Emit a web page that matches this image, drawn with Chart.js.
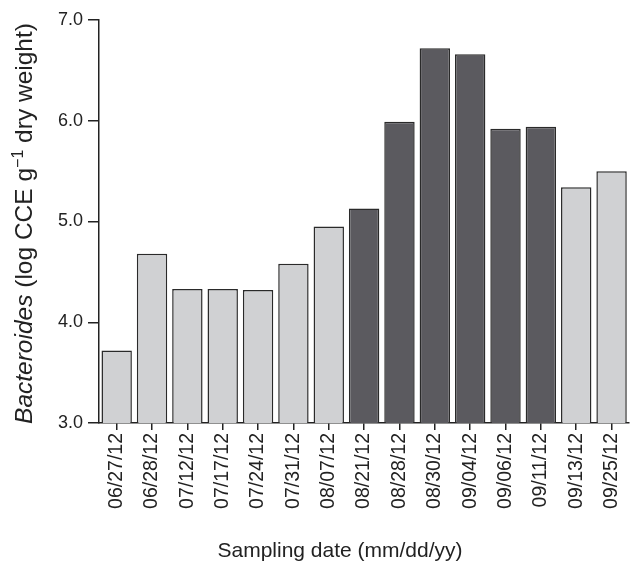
<!DOCTYPE html>
<html>
<head>
<meta charset="utf-8">
<script src="https://cdn.jsdelivr.net/npm/chart.js@4/dist/chart.umd.min.js"></script>
<style>
  html, body { margin: 0; padding: 0; background: #fff; overflow: hidden; }
  #wrap { width: 638px; height: 566px; }
</style>
</head>
<body>
<div id="wrap"><canvas id="bact"></canvas></div>
<script>
// sampling dates and Bacteroides level (log CCE per g dry weight)
const dates = ['06/27/12', '06/28/12', '07/12/12', '07/17/12', '07/24/12', '07/31/12', '08/07/12',
  '08/21/12', '08/28/12', '08/30/12', '09/04/12', '09/06/12', '09/11/12', '09/13/12', '09/25/12'];
const logCCE = [3.72, 4.68, 4.33, 4.33, 4.32, 4.58, 4.95, 5.13, 5.99, 6.72, 6.66, 5.92, 5.94, 5.34, 5.50];
// dark bars = late summer samples
const darkBar = [0, 0, 0, 0, 0, 0, 0, 1, 1, 1, 1, 1, 1, 0, 0];
const yTicks = [3.0, 4.0, 5.0, 6.0, 7.0];

const LIGHT = '#d0d1d3';
const DARK = '#5b5a5f';
const INK = '#222222';
const FONT = '"Liberation Sans", Arial, sans-serif';

// axis titles drawn by hand: italic genus name, superscript -1,
// and the x title sits left of the (clipped) plot centre
const axisTitles = {
  id: 'axisTitles',
  afterDraw(chart) {
    const ctx = chart.ctx;
    const area = chart.chartArea;
    const parts = [
      { t: 'Bacteroides', f: 'italic 24.5px ' + FONT, dy: 0 },
      { t: ' (log CCE g', f: '24.5px ' + FONT, dy: 0 },
      { t: '\u22121', f: '16px ' + FONT, dy: -9 },
      { t: ' dry weight)', f: '24.5px ' + FONT, dy: 0 }
    ];
    let total = 0;
    parts.forEach(p => { ctx.font = p.f; p.w = ctx.measureText(p.t).width; total += p.w; });
    ctx.save();
    ctx.fillStyle = INK;
    ctx.textBaseline = 'alphabetic';
    ctx.translate(32, (area.top + area.bottom) / 2 + 2);
    ctx.rotate(-Math.PI / 2);
    let x = -total / 2;
    parts.forEach(p => {
      ctx.font = p.f;
      ctx.fillText(p.t, x, p.dy);
      x += p.w;
    });
    ctx.restore();

    ctx.save();
    ctx.fillStyle = INK;
    ctx.font = '21px ' + FONT;
    ctx.textAlign = 'center';
    ctx.textBaseline = 'middle';
    ctx.fillText('Sampling date (mm/dd/yy)', 340, 551);
    ctx.restore();
  }
};

new Chart(document.getElementById('bact'), {
  type: 'bar',
  data: {
    labels: dates,
    datasets: [{
      data: logCCE,
      backgroundColor: darkBar.map(d => d ? DARK : LIGHT),
      borderColor: '#2a2a2a',
      borderWidth: 1.5,
      barPercentage: 0.86,
      categoryPercentage: 1.0
    }]
  },
  options: {
    responsive: true,
    maintainAspectRatio: false,
    animation: false,
    layout: { padding: { left: 31, top: 20, right: 1, bottom: 6 } },
    plugins: {
      legend: { display: false },
      tooltip: { enabled: false }
    },
    scales: {
      x: {
        offset: true,
        afterFit: s => { s.height = 137; },
        grid: { offset: false, drawOnChartArea: false, drawTicks: true, tickLength: 7, color: INK, lineWidth: 1.5 },
        border: { color: INK, width: 1.5 },
        ticks: { minRotation: 90, maxRotation: 90, color: INK, font: { family: FONT, size: 19.5 }, padding: 3 }
      },
      y: {
        min: 3, max: 7,
        afterFit: s => { s.width = 68; },
        afterBuildTicks: s => { s.ticks = yTicks.map(v => ({ value: v })); },
        grid: { drawOnChartArea: false, drawTicks: true, tickLength: 11, color: INK, lineWidth: 1.5 },
        border: { color: INK, width: 1.5 },
        ticks: { color: INK, font: { family: FONT, size: 18 }, padding: 5, callback: v => v.toFixed(1) }
      }
    }
  },
  plugins: [axisTitles]
});
</script>
</body>
</html>
